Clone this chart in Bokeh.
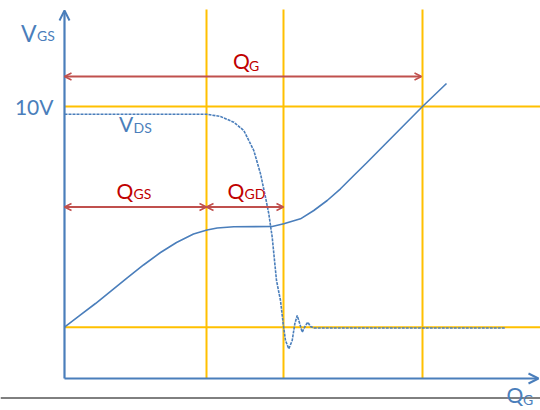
from bokeh.plotting import figure
from bokeh.models import Range1d, Arrow, OpenHead, Label, Span
from bokeh.embed import file_html
from bokeh.resources import INLINE

# ---- data (charge Q in arbitrary nC units, voltage V in volts) ----
vgs_q = [0.0, 1.6, 3.1, 4.7, 6.3, 7.9, 9.6, 11.2, 12.9, 14.25, 15.27, 16.93, 20.77,
         21.93, 23.6, 24.93, 26.27, 27.6, 28.93, 30.2, 35.8, 38.2]
vgs_v = [1.886, 2.335, 2.757, 3.235, 3.713, 4.173, 4.632, 5.0, 5.312, 5.460, 5.533,
         5.581, 5.588, 5.688, 5.871, 6.176, 6.544, 6.974, 7.463, 7.923, 10.0, 10.846]

vds_q = [0.0, 14.2, 15.6, 16.93, 17.93, 18.93, 19.6, 20.1, 20.43, 20.77, 21.2, 21.6,
         21.87, 22.1, 22.43, 22.77, 23.03, 23.27, 23.53, 23.77, 24.1, 24.33, 24.6,
         24.93, 44.1]
vds_v = [9.717, 9.717, 9.632, 9.423, 9.118, 8.382, 7.526, 6.665, 6.055, 5.195, 3.603,
         2.868, 2.011, 1.397, 1.092, 1.397, 2.011, 2.316, 2.011, 1.702, 1.949, 2.070,
         1.912, 1.857, 1.857]

q_marks = [14.2, 21.9, 35.8]        # Q_GS, Q_GS+Q_GD, Q_G
v_marks = [10.0, 1.886]             # 10 V level, plateau-low level
q_g_level = 11.103
q_parts_level = 6.305
q_axis_end = 47.4
v_axis_end = 13.53
v_guide_top = 13.566

BLUE = "#4A7EBB"
ORANGE = "#FFC000"
RED_LINE = "#C0504D"
RED_TEXT = "#C00000"
FONT = "Lato"

# reference-pixel helpers for placing annotation text
def px2q(px):
    return (px - 64) / 10.0

def py2v(py):
    return (378 - py) / 27.2

p = figure(width=540, height=410, output_backend="svg", toolbar_location=None,
           x_range=Range1d(px2q(0), px2q(540)), y_range=Range1d(py2v(410), py2v(0)),
           min_border=0)
p.axis.visible = False
p.xgrid.visible = False
p.ygrid.visible = False
p.outline_line_color = None
p.background_fill_color = "white"

# orange guide lines
p.segment(x0=q_marks, y0=[0] * len(q_marks), x1=q_marks, y1=[v_guide_top] * len(q_marks),
          line_color=ORANGE, line_width=2)
p.segment(x0=[0] * len(v_marks), y0=v_marks, x1=[60] * len(v_marks), y1=v_marks,
          line_color=ORANGE, line_width=2)

# curves
p.line(vds_q, vds_v, line_color=BLUE, line_width=1.6, line_dash="3 1")
p.line(vgs_q, vgs_v, line_color=BLUE, line_width=1.6)

# axes with arrows
p.add_layout(Arrow(end=OpenHead(size=10, line_color=BLUE, line_width=2),
                   x_start=0, y_start=0, x_end=0, y_end=v_axis_end,
                   line_color=BLUE, line_width=2.2))
p.add_layout(Arrow(end=OpenHead(size=10, line_color=BLUE, line_width=2),
                   x_start=0, y_start=0, x_end=q_axis_end, y_end=0,
                   line_color=BLUE, line_width=2.2))

# red dimension arrows
def dim_arrow(x0, x1, y):
    p.add_layout(Arrow(start=OpenHead(size=7, line_color=RED_LINE, line_width=1.6),
                       end=OpenHead(size=7, line_color=RED_LINE, line_width=1.6),
                       x_start=x0, y_start=y, x_end=x1, y_end=y,
                       line_color=RED_LINE, line_width=1.8))

dim_arrow(0, q_marks[2] - 0.1, q_g_level)
dim_arrow(0, q_marks[0], q_parts_level)
dim_arrow(q_marks[0], q_marks[1], q_parts_level)

# black baseline rule
p.add_layout(Span(location=py2v(397.5), dimension="width", line_color="black", line_width=1))

# labels
SHIFT = 7
def lab(text, px, py, size, color, align="left"):
    p.add_layout(Label(x=px2q(px), y=py2v(py - SHIFT), text=text, text_font=FONT,
                       text_font_size=f"{size}px", text_color=color,
                       text_align=align, text_baseline="alphabetic"))

lab("V", 20.5, 39.5, 23, BLUE)
lab("GS", 36.5, 41.5, 14, BLUE)
lab("10V", 53, 112.5, 21, BLUE, "right")
lab("V", 118.5, 129.5, 21, BLUE)
lab("DS", 133, 133.5, 14, BLUE)
lab("Q", 232.5, 66.5, 21, RED_TEXT)
lab("G", 248.5, 72, 14, RED_TEXT)
lab("Q", 116, 197, 21, RED_TEXT)
lab("GS", 133, 199.5, 14, RED_TEXT)
lab("Q", 227, 197, 21, RED_TEXT)
lab("GD", 244, 200, 14, RED_TEXT)
lab("Q", 506, 400.5, 21, BLUE)
lab("G", 522.5, 405.5, 14, BLUE)

open("out.html", "w").write(file_html(p, INLINE))
